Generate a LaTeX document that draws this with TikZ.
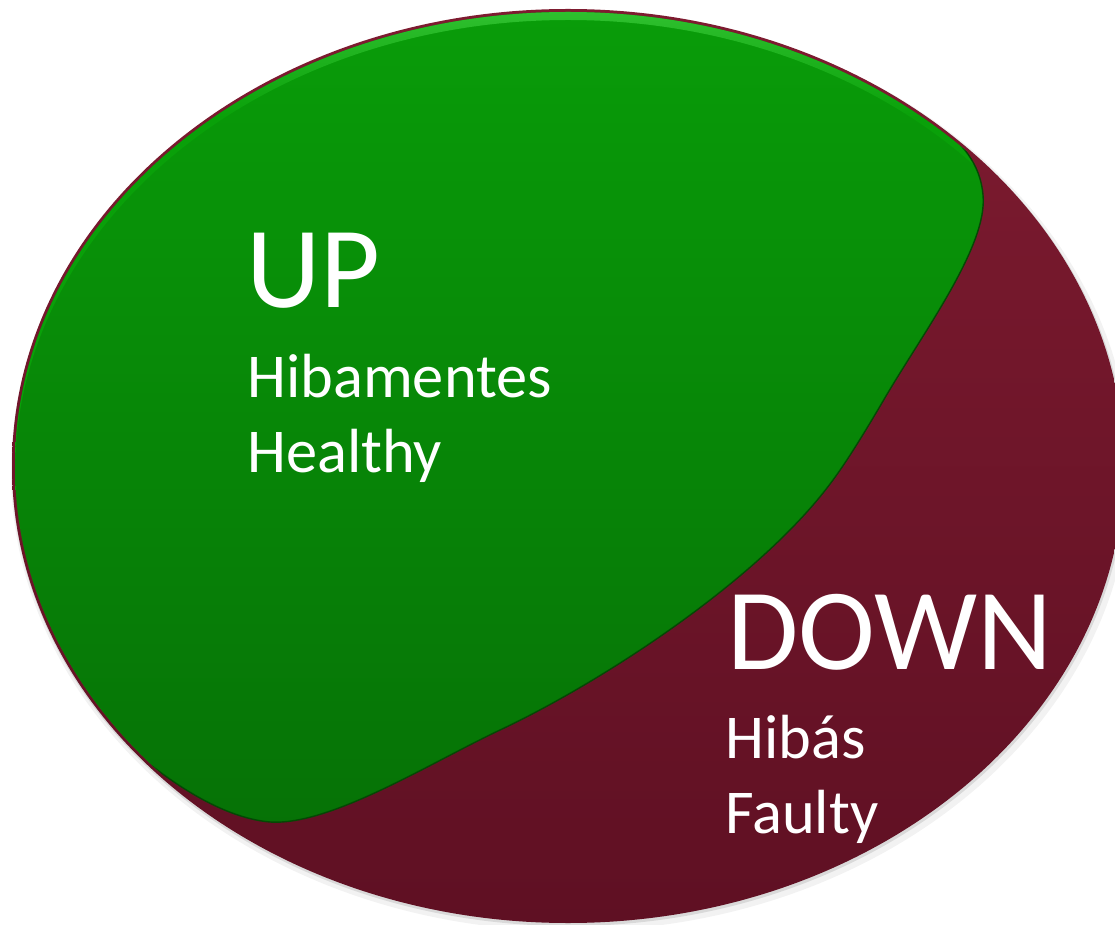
\documentclass[tikz,border=0pt]{standalone}
\usepackage{fontspec}
\setmainfont{Carlito}
\definecolor{upgreentop}{RGB}{9,160,9}
\definecolor{upgreenbot}{RGB}{6,114,6}
\definecolor{upgreenedge}{RGB}{4,72,4}
\definecolor{uprim}{RGB}{72,214,72}
\definecolor{downredtop}{RGB}{126,27,48}
\definecolor{downredbot}{RGB}{95,16,35}
\pgfdeclareverticalshading{uprimshade}{100bp}{color(0bp)=(upgreentop); color(66bp)=(upgreentop); color(75bp)=(uprim); color(100bp)=(uprim)}
\begin{document}
\begin{tikzpicture}[x=0.02cm, y=-0.02cm,
		heading/.style={text=white, anchor=base west, inner sep=0pt, font=\fontsize{66}{78}\selectfont},
		subline/.style={text=white, anchor=base west, inner sep=0pt, font=\fontsize{35.5}{42}\selectfont}]
	\useasboundingbox (0,0) rectangle (1115,925);
	% shadow and the DOWN part
	\fill[black, opacity=0.05] (571,471) ellipse [x radius=560, y radius=460];
	\fill[black, opacity=0.10] (569,468) ellipse [x radius=557, y radius=458];
	\shade[top color=downredtop, bottom color=downredbot] (568,466) ellipse [x radius=556, y radius=457];
	% the UP part
	\begin{scope}
		\clip (568,466) ellipse [x radius=553, y radius=454];
		\shadedraw[top color=upgreentop, bottom color=upgreenbot, draw=upgreenedge, line width=0.8pt,
			path picture={\shade[shading=uprimshade, even odd rule]
				(568,466) ellipse [x radius=553, y radius=454] (568,472) ellipse [x radius=553, y radius=452];}]
			(-60,-60) -- (-60,600) -- (30,640)
			.. controls (90,720) and (190,815) .. (270,822)
			.. controls (330,826) and (430,763) .. (500,730)
			.. controls (600,683) and (760,580) .. (833,480)
			.. controls (850,457) and (872,420) .. (886,396)
			.. controls (925,330) and (988,245) .. (983,195)
			.. controls (981,170) and (968,150) .. (950,135)
			-- (1000,60) -- (1000,-60) -- cycle;
	\end{scope}
	\node(up)          [heading] at (246,308) {UP};
	\node(hibamentes)  [subline] at (247,398) {Hibamentes};
	\node(healthy)     [subline] at (247,473) {Healthy};
	\node(down)        [heading] at (727,669) {DOWN};
	\node(hibas)       [subline] at (725,758) {Hibás};
	\node(faulty)      [subline] at (725,833) {Faulty};
\end{tikzpicture}
\end{document}
